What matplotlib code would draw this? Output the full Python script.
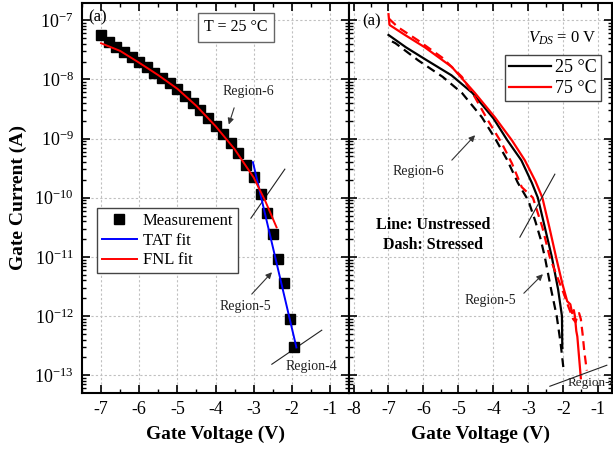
import matplotlib
matplotlib.use("Agg")
import matplotlib.pyplot as plt
from matplotlib.ticker import LogLocator, MultipleLocator, NullFormatter

plt.rcParams['font.family'] = 'Liberation Serif'
plt.rcParams['mathtext.fontset'] = 'custom'
plt.rcParams['mathtext.rm'] = 'Liberation Serif'
plt.rcParams['mathtext.it'] = 'Liberation Serif:italic'
plt.rcParams['axes.unicode_minus'] = False

# Left panel: measurement and fits at 25 C
meas_v = [-7.0, -6.8, -6.6, -6.4, -6.2, -6.0, -5.8, -5.6, -5.4, -5.2, -5.0, -4.8, -4.6, -4.4,
          -4.2, -4.0, -3.8, -3.6, -3.4, -3.2, -3.0, -2.8, -2.65, -2.5, -2.35, -2.2, -2.05, -1.95]
meas_i = [5.6e-8, 4.25e-8, 3.5e-8, 2.88e-8, 2.37e-8, 1.95e-8, 1.62e-8, 1.27e-8, 1.05e-8, 8.6e-9,
          6.8e-9, 5.2e-9, 4.0e-9, 3.0e-9, 2.2e-9, 1.6e-9, 1.19e-9, 8.4e-10, 5.7e-10, 3.5e-10,
          2.2e-10, 1.15e-10, 5.5e-11, 2.4e-11, 9.1e-12, 3.6e-12, 8.9e-13, 3.0e-13]

fnl_v = [-7.0, -6.5, -6.0, -5.5, -5.0, -4.5, -4.0, -3.5, -3.0, -2.7, -2.4]
fnl_i = [4.07e-8, 3.02e-8, 1.905e-8, 1.175e-8, 6.92e-9, 3.55e-9, 1.62e-9, 6.61e-10, 2.19e-10,
         8.9e-11, 3.16e-11]

tat_v = [-3.02, -1.88]
tat_i = [3.98e-10, 2.95e-13]

# Right panel: unstressed (solid) and stressed (dashed) at 25 C and 75 C
v25_un = [-7.0, -6.5, -5.9, -5.2, -4.6, -4.0, -3.6, -3.2, -2.9, -2.73, -2.55, -2.33, -2.15,
          -2.04, -2.03]
i25_un = [5.62e-8, 3.47e-8, 2.09e-8, 1.17e-8, 5.89e-9, 2.19e-9, 9.3e-10, 4.27e-10, 1.78e-10,
          1e-10, 3.55e-11, 1e-11, 2.82e-12, 1e-12, 2.88e-13]

v25_st = [-6.9, -6.8, -6.15, -5.45, -4.9, -4.33, -3.95, -3.6, -3.3, -3.0, -2.8, -2.65, -2.53,
          -2.35, -2.19, -2.08, -1.99]
i25_st = [4.37e-8, 4.07e-8, 2.09e-8, 1.10e-8, 5.89e-9, 2.29e-9, 1e-9, 4.27e-10, 1.78e-10,
          8.9e-11, 3.98e-11, 2.0e-11, 1e-11, 2.82e-12, 1e-12, 3.55e-13, 1.2e-13]

v75_un = [-7.0, -6.97, -6.53, -5.96, -5.19, -4.53, -3.96, -3.47, -3.1, -2.8, -2.6, -2.4, -2.21,
          -2.03, -1.89, -1.8, -1.75, -1.7, -1.67, -1.63, -1.6, -1.55, -1.5]
i75_un = [1.26e-7, 8.3e-8, 5.62e-8, 3.47e-8, 1.62e-8, 5.89e-9, 2.29e-9, 9.3e-10, 4.27e-10,
          1.91e-10, 1e-10, 3.16e-11, 1e-11, 3.55e-12, 1.78e-12, 1.58e-12, 1.12e-12, 1.26e-12,
          1e-12, 5.6e-13, 4.5e-13, 2.0e-13, 8.9e-14]

v75_st = [-6.98, -6.73, -6.16, -5.47, -4.9, -4.53, -4.16, -3.76, -3.47, -3.19, -2.87, -2.6,
          -2.39, -2.2, -2.0, -1.85, -1.72, -1.65, -1.6, -1.55, -1.5, -1.45, -1.4, -1.33]
i75_st = [1.05e-7, 7.6e-8, 4.57e-8, 2.34e-8, 1.10e-8, 5.0e-9, 2.04e-9, 8.3e-10, 3.8e-10,
          1.51e-10, 1e-10, 3.16e-11, 1e-11, 5.0e-12, 2.51e-12, 1.41e-12, 8.9e-13, 7.9e-13,
          1e-12, 1.12e-12, 8.9e-13, 5.0e-13, 2.51e-13, 1.2e-13]

fig = plt.figure(figsize=(6.13, 4.59), dpi=100)
ax1 = fig.add_axes([0.1338, 0.1438, 0.4356, 0.8497])
ax2 = fig.add_axes([0.5693, 0.1438, 0.4290, 0.8497])


def style_axes(ax, xlim):
    ax.set_yscale('log')
    ax.set_ylim(10 ** -13.3, 10 ** -6.71)
    ax.set_xlim(*xlim)
    ax.xaxis.set_major_locator(MultipleLocator(1))
    ax.xaxis.set_minor_locator(MultipleLocator(0.5))
    ax.yaxis.set_major_locator(LogLocator(base=10, numticks=20))
    ax.yaxis.set_minor_locator(LogLocator(base=10, subs=range(2, 10), numticks=20))
    ax.yaxis.set_minor_formatter(NullFormatter())
    ax.grid(True, which='major', linestyle=(0, (2, 2)), color='#c0c0c0', linewidth=0.8)
    ax.tick_params(which='both', direction='in', top=True, right=True, labelsize=13)
    ax.tick_params(which='major', length=6, width=1.2, pad=6)
    ax.tick_params(which='minor', length=3, width=1.0)
    for s in ax.spines.values():
        s.set_linewidth(1.5)
    ax.set_xlabel('Gate Voltage (V)', fontsize=14, fontweight='bold', labelpad=5)


style_axes(ax1, (-7.5, -0.5))
style_axes(ax2, (-8.13, -0.61))
ax2.tick_params(labelleft=False)
ax1.set_ylabel('Gate Current (A)', fontsize=14, fontweight='bold', labelpad=5)

# left panel
ax1.plot(meas_v, meas_i, 's', color='black', markersize=6.5, label='Measurement', zorder=3)
ax1.plot(tat_v, tat_i, color='#0000ff', lw=1.4, label='TAT fit', zorder=4)
ax1.plot(fnl_v, fnl_i, color='#ff0000', lw=1.4, label='FNL fit', zorder=4)

ax1.legend(loc='upper left', bbox_to_anchor=(0.056, 0.474), fontsize=12, frameon=True,
           fancybox=False, edgecolor='#444444', framealpha=1, handlelength=2.1,
           handletextpad=0.35, labelspacing=0.22, borderpad=0.3, borderaxespad=0)

ax1.text(0.022, 0.964, '(a)', transform=ax1.transAxes, fontsize=12, va='center', ha='left')
ax1.text(0.577, 0.938, 'T = 25 °C', transform=ax1.transAxes, fontsize=11.5, ha='center',
         va='center', bbox=dict(boxstyle='square,pad=0.4', fc='white', ec='#666666', lw=1))

arr = dict(arrowstyle='-|>', color='#333333', lw=0.8, mutation_scale=9)
ax1.annotate('', xy=(-3.675, 10 ** -8.808), xytext=(-3.49, 10 ** -8.437), arrowprops=arr)
ax1.text(0.622, 0.774, 'Region-6', transform=ax1.transAxes, fontsize=10, ha='center',
         va='center', color='#222222')
ax1.plot([-3.073, -2.183], [10 ** -10.346, 10 ** -9.518], color='#222222', lw=0.8)
ax1.annotate('', xy=(-2.471, 10 ** -11.225), xytext=(-3.10, 10 ** -11.664), arrowprops=arr)
ax1.text(0.611, 0.223, 'Region-5', transform=ax1.transAxes, fontsize=10, ha='center',
         va='center', color='#222222')
ax1.plot([-2.524, -1.215], [10 ** -12.814, 10 ** -12.239], color='#222222', lw=0.8)
ax1.text(0.858, 0.067, 'Region-4', transform=ax1.transAxes, fontsize=10, ha='center',
         va='center', color='#222222')

# right panel
ax2.plot(v25_un, i25_un, color='black', lw=1.6, label='25 °C')
ax2.plot(v75_un, i75_un, color='#ff0000', lw=1.6, label='75 °C')
ax2.plot(v25_st, i25_st, color='black', lw=1.6, linestyle=(0, (4, 2.5)))
ax2.plot(v75_st, i75_st, color='#ff0000', lw=1.6, linestyle=(0, (4, 2.5)))

ax2.legend(loc='upper left', bbox_to_anchor=(0.593, 0.867), fontsize=13, frameon=True,
           fancybox=False, edgecolor='#444444', framealpha=1, handlelength=2.3,
           handletextpad=0.2, labelspacing=0.2, borderpad=0.25, borderaxespad=0)

ax2.text(0.049, 0.954, '(a)', transform=ax2.transAxes, fontsize=12, va='center', ha='left')
ax2.text(0.81, 0.91, r'$V_{DS}$ = 0 V', transform=ax2.transAxes, fontsize=12, ha='center',
         va='center')
ax2.text(0.319, 0.431, 'Line: Unstressed', transform=ax2.transAxes, fontsize=11.5,
         fontweight='bold', ha='center', va='center')
ax2.text(0.319, 0.379, 'Dash: Stressed', transform=ax2.transAxes, fontsize=11.5,
         fontweight='bold', ha='center', va='center')

ax2.annotate('', xy=(-4.47, 10 ** -8.91), xytext=(-5.243, 10 ** -9.40), arrowprops=arr)
ax2.text(0.262, 0.569, 'Region-6', transform=ax2.transAxes, fontsize=10, ha='center',
         va='center', color='#222222')
ax2.plot([-3.243, -2.243], [10 ** -10.667, 10 ** -9.603], color='#222222', lw=0.8)
ax2.annotate('', xy=(-2.529, 10 ** -11.259), xytext=(-3.186, 10 ** -11.648), arrowprops=arr)
ax2.text(0.536, 0.238, 'Region-5', transform=ax2.transAxes, fontsize=10, ha='center',
         va='center', color='#222222')
ax2.plot([-2.386, -0.757], [10 ** -13.186, 10 ** -12.831], color='#222222', lw=0.8)
ax2.text(0.83, 0.026, 'Region-4', transform=ax2.transAxes, fontsize=9.5, ha='left',
         va='center', color='#222222', clip_on=False)

fig.savefig('out.png', dpi=100)
